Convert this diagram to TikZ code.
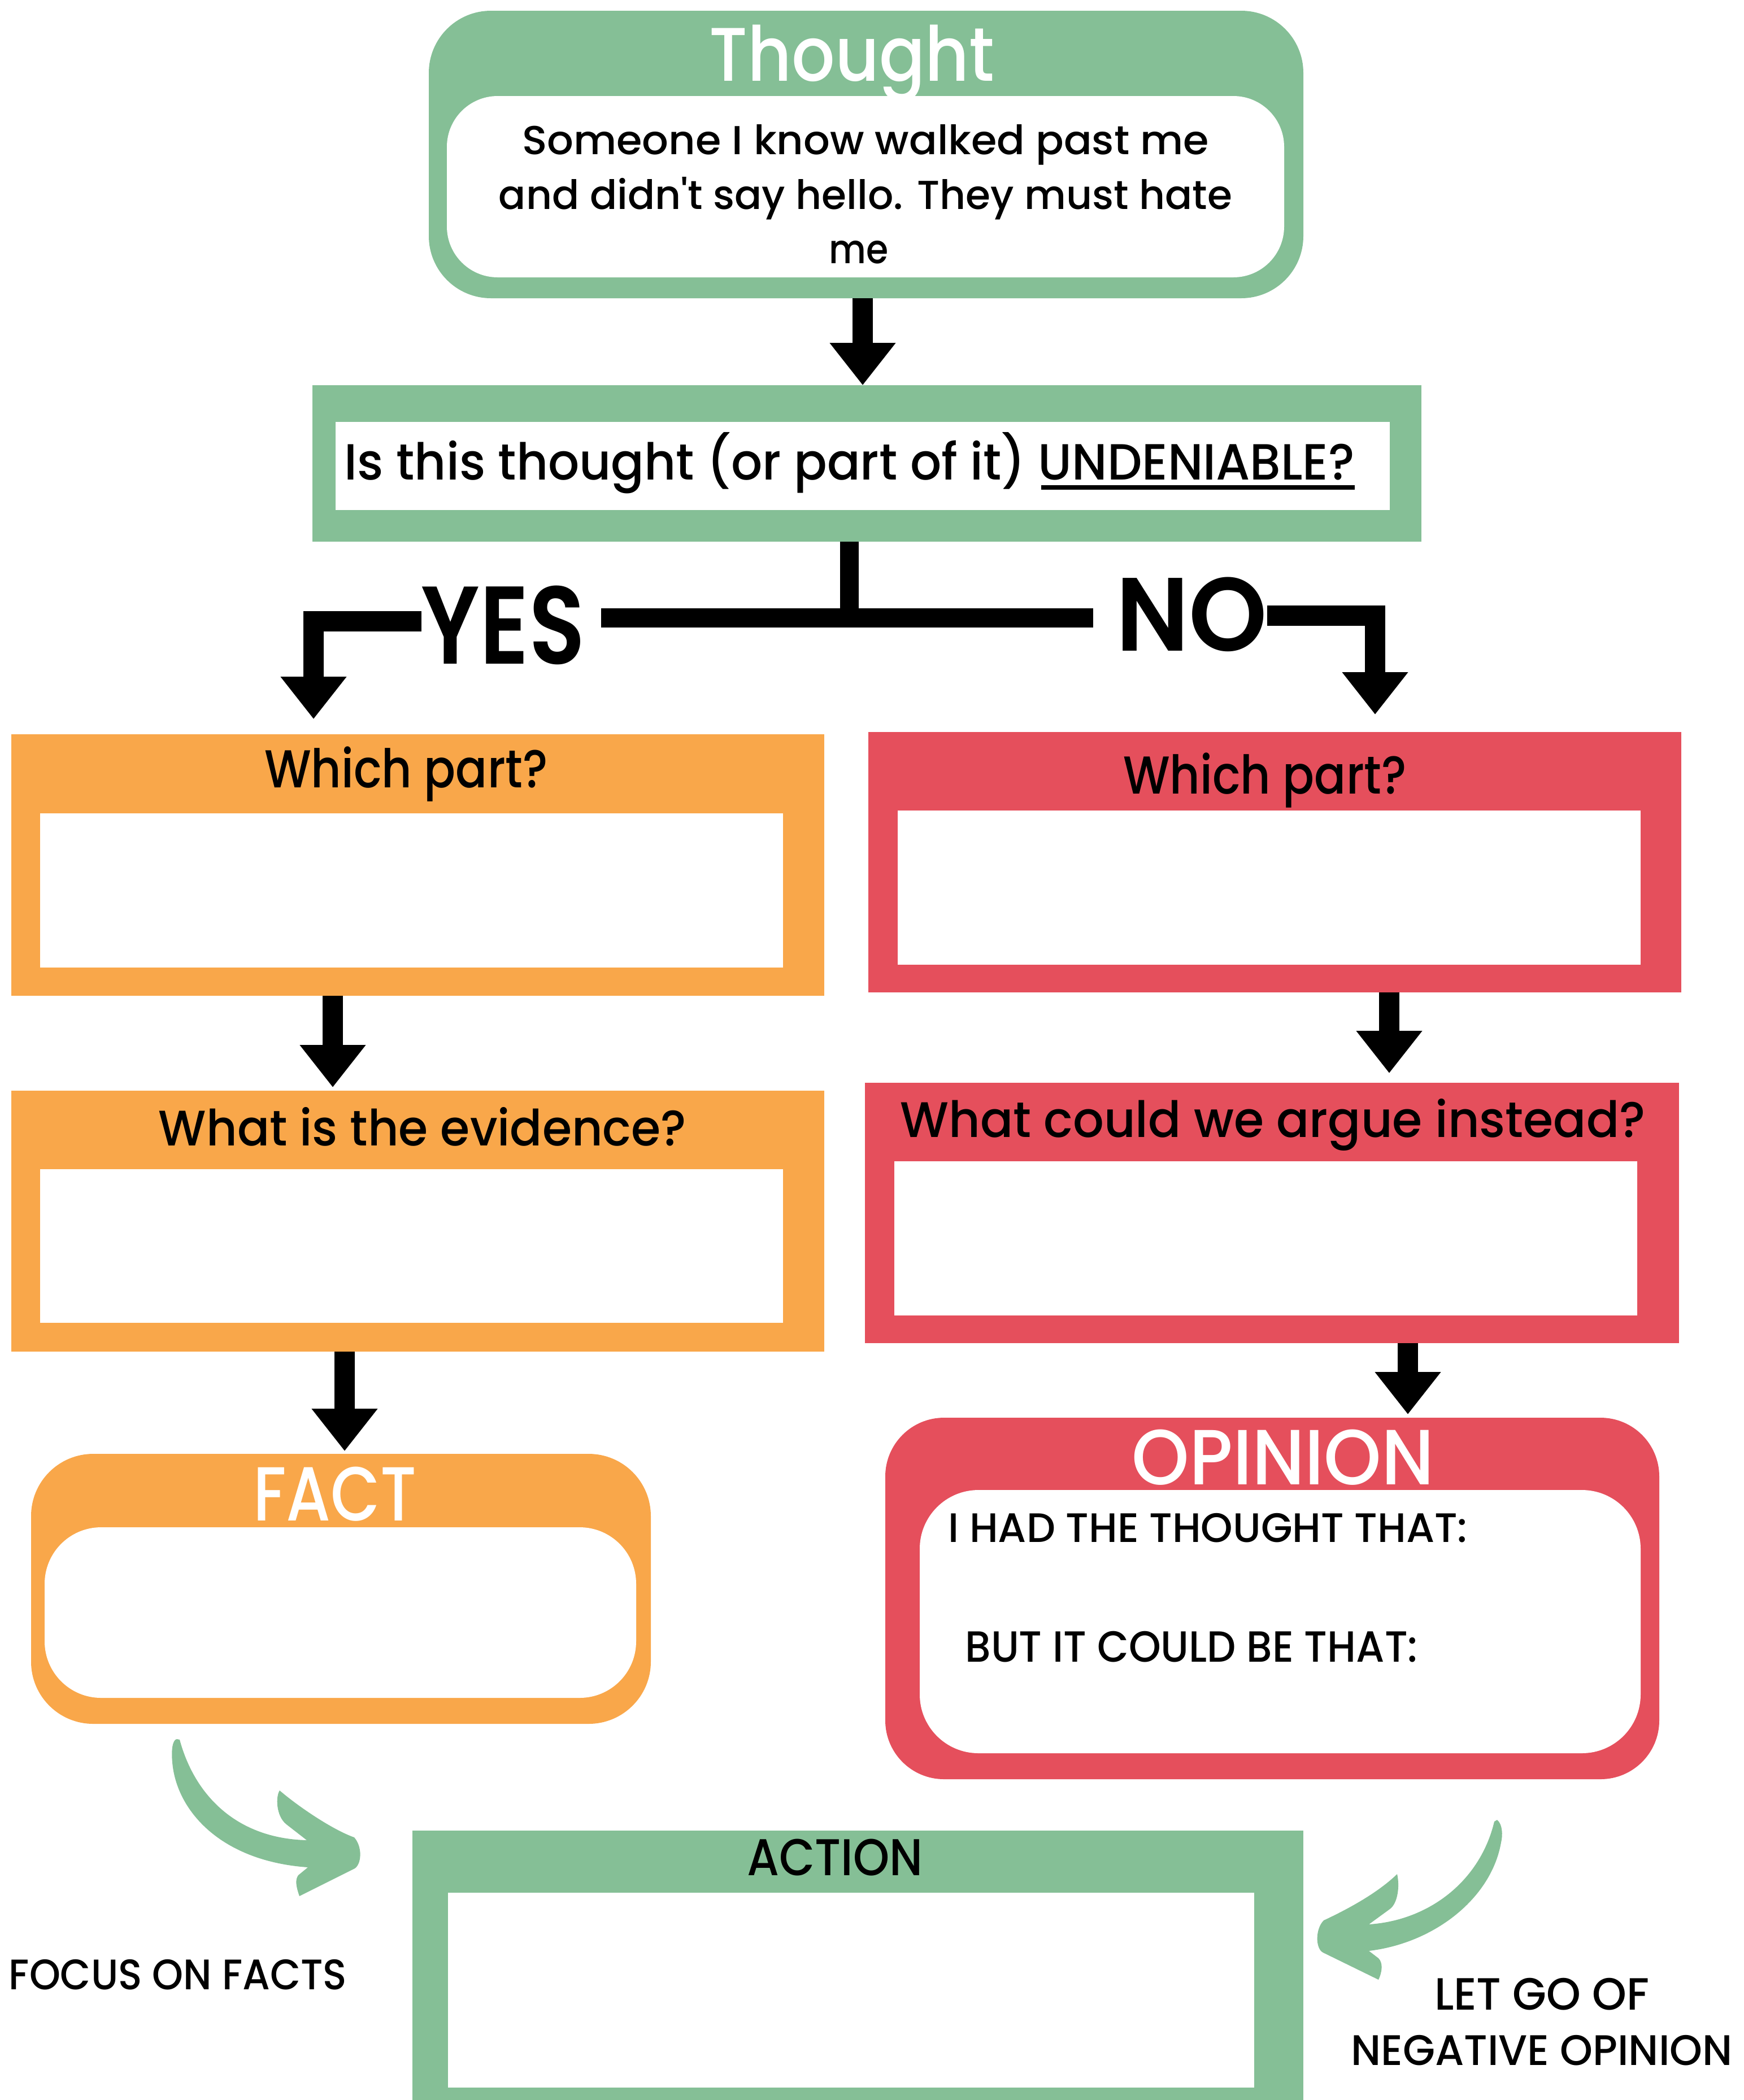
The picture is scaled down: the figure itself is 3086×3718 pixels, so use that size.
\documentclass[tikz,border=0pt]{standalone}
\usepackage{fontspec}
\setmainfont{Poppins}[Ligatures=TeXOff]
\newfontfamily\pmed{Poppins Medium}[Ligatures=TeXOff]
\newfontfamily\pbold{Poppins SemiBold}[Ligatures=TeXOff]
\usetikzlibrary{arrows.meta,fit}
\newlength\px \setlength\px{0.25pt}
\definecolor{gr}{RGB}{133,191,150}
\definecolor{org}{RGB}{249,167,74}
\definecolor{rd}{RGB}{229,79,92}
\newcommand\tx[3]{\resizebox{#2\px}{\height}{\fontsize{#1pt}{#1pt}\pmed #3}}
\newcommand\tb[3]{\resizebox{#2\px}{\height}{\fontsize{#1pt}{#1pt}\pbold #3}}
\begin{document}
\begin{tikzpicture}[x=0.25pt,y=-0.25pt,
  shp/.style={inner sep=0pt, outer sep=0pt, draw=none},
  gbox/.style={shp, fill=gr},
  obox/.style={shp, fill=org},
  rbox/.style={shp, fill=rd},
  wbox/.style={shp, fill=white},
  lbl/.style={inner sep=0pt, outer sep=0pt, anchor=base, text=black},
  wlbl/.style={lbl, text=white},
  blk/.style={line width=9pt, black, line join=miter, -{Triangle[width=28pt,length=18.75pt]}},
  bar/.style={line width=8.5pt, black}]
\useasboundingbox (0,0) rectangle (3086,3718);
% Thought
\node[gbox, rounded corners=27.5pt, fit={(759,19) (2307,528)}] (th) {};
\node[wbox, rounded corners=22.5pt, fit={(791,170) (2273,491)}] (thin) {};
\node[wlbl] (tht) at (1508,143) {\tx{33.6}{505}{Thought}};
\node[lbl] (l1) at (1532,273) {\tx{17.9}{1216}{Someone I know walked past me}};
\node[lbl] (l2) at (1532,370) {\tx{17.9}{1298}{and didn't say hello. They must hate}};
\node[lbl] (l3) at (1520,466) {\tx{17.9}{105}{me}};
% Question
\node[gbox, fit={(553,682) (2516,959)}] (q) {};
\node[wbox, fit={(594,747) (2460,903)}] (qin) {};
\node[lbl] (qt) at (1504,849) {\tx{22.5}{1788}{Is this thought (or part of it) UNDENIABLE?}};
\fill (1843,859) rectangle (2398,867);
% YES / NO
\node[lbl] (yes) at (891,1175) {\tb{48.9}{290}{YES}};
\node[lbl] (no) at (2109,1152) {\tb{46.1}{268}{NO}};
% left column
\node[obox, fit={(20,1300) (1459,1763)}] (ob1) {};
\node[wbox, fit={(71,1440) (1386,1713)}] (ob1in) {};
\node[lbl] (wp1) at (719,1394) {\tx{23.6}{502}{Which part?}};
\node[obox, fit={(20,1931) (1459,2393)}] (ob2) {};
\node[wbox, fit={(71,2070) (1386,2342)}] (ob2in) {};
\node[lbl] (ev) at (748,2028) {\tx{22.1}{934}{What is the evidence?}};
\node[obox, rounded corners=27.5pt, fit={(55,2574) (1152,3052)}] (fact) {};
\node[wbox, rounded corners=25pt, fit={(79,2704) (1126,3006)}] (factin) {};
\node[wlbl] (factt) at (593,2692) {\tx{33.9}{289}{FACT}};
% right column
\node[rbox, fit={(1537,1296) (2976,1757)}] (rb1) {};
\node[wbox, fit={(1589,1435) (2904,1708)}] (rb1in) {};
\node[lbl] (wp2) at (2239,1405) {\tx{23.6}{502}{Which part?}};
\node[rbox, fit={(1531,1917) (2972,2378)}] (rb2) {};
\node[wbox, fit={(1583,2056) (2898,2329)}] (rb2in) {};
\node[lbl] (arg) at (2253,2013) {\tx{22.1}{1319}{What could we argue instead?}};
\node[rbox, rounded corners=26pt, fit={(1567,2510) (2937,3150)}] (op) {};
\node[wbox, rounded corners=26pt, fit={(1628,2638) (2904,3104)}] (opin) {};
\node[wlbl] (opt) at (2271,2628) {\tx{34.6}{535}{OPINION}};
\node[lbl] (had) at (2138,2730) {\tx{18.2}{919}{I HAD THE THOUGHT THAT:}};
\node[lbl] (but) at (2109,2942) {\tx{19.3}{801}{BUT IT COULD BE THAT:}};
% Action
\node[gbox, fit={(730,3241) (2307,3718)}] (act) {};
\node[wbox, fit={(793,3351) (2220,3696)}] (actin) {};
\node[lbl] (actt) at (1478,3320) {\tx{22.9}{311}{ACTION}};
\node[lbl] (foc) at (315,3522) {\tx{18.9}{598}{FOCUS ON FACTS}};
\node[lbl] (let) at (2729,3558) {\tx{20}{380}{LET GO OF}};
\node[lbl] (neg) at (2729,3656) {\tx{18.9}{675}{NEGATIVE OPINION}};
% connector coordinates
\coordinate (ca1) at (1527,0);
\coordinate (jn) at (1503,1094);
\coordinate (ly) at (555,1100);
\coordinate (ry) at (2434,1090);
\coordinate (ca2) at (589,0);
\coordinate (ca3) at (2459,0);
\coordinate (ca4) at (610,0);
\coordinate (ca5) at (2492,0);
% connectors
\draw[blk] (th.south -| ca1) -- (q.north -| ca1);
\draw[line width=8.25pt] (q.south -| jn) -- (jn);
\draw[bar, shorten <=7pt, shorten >=10pt] (yes.east |- jn) -- (no.west |- jn);
\draw[blk, shorten >=6.75pt] (yes.west |- ly) -| (ob1.north -| ly);
\draw[blk, shorten >=7.75pt] (no.east |- ry) -| (rb1.north -| ry);
\draw[blk, shorten >=1.5pt] (ob1.south -| ca2) -- (ob2.north -| ca2);
\draw[blk, shorten >=4.25pt] (rb1.south -| ca3) -- (rb2.north -| ca3);
\draw[blk, shorten >=1.25pt] (ob2.south -| ca4) -- (fact.north -| ca4);
\draw[blk, shorten >=1.5pt] (rb2.south -| ca5) -- (op.north -| ca5);
% green curved arrows
\fill[gr] (313,3079) .. controls (305,3080) and (303,3100) .. (305,3120)
  .. controls (312,3205) and (390,3295) .. (545,3306)
  -- (528,3320) .. controls (522,3328) and (524,3340) .. (530,3357)
  -- (628,3308) .. controls (640,3300) and (642,3270) .. (627,3253)
  .. controls (590,3240) and (530,3200) .. (495,3170)
  .. controls (488,3180) and (488,3215) .. (507,3230)
  -- (543,3258) .. controls (420,3255) and (345,3180) .. (318,3080) -- cycle;
\fill[gr] (2650,3222) .. controls (2660,3230) and (2660,3250) .. (2657,3262)
  .. controls (2640,3360) and (2540,3440) .. (2423,3454)
  -- (2440,3467) .. controls (2448,3475) and (2447,3490) .. (2440,3505)
  -- (2342,3457) .. controls (2328,3450) and (2328,3415) .. (2343,3400)
  .. controls (2390,3378) and (2440,3350) .. (2473,3318)
  .. controls (2478,3340) and (2474,3370) .. (2460,3380)
  -- (2423,3407) .. controls (2530,3400) and (2620,3330) .. (2645,3225) -- cycle;
\end{tikzpicture}
\end{document}
